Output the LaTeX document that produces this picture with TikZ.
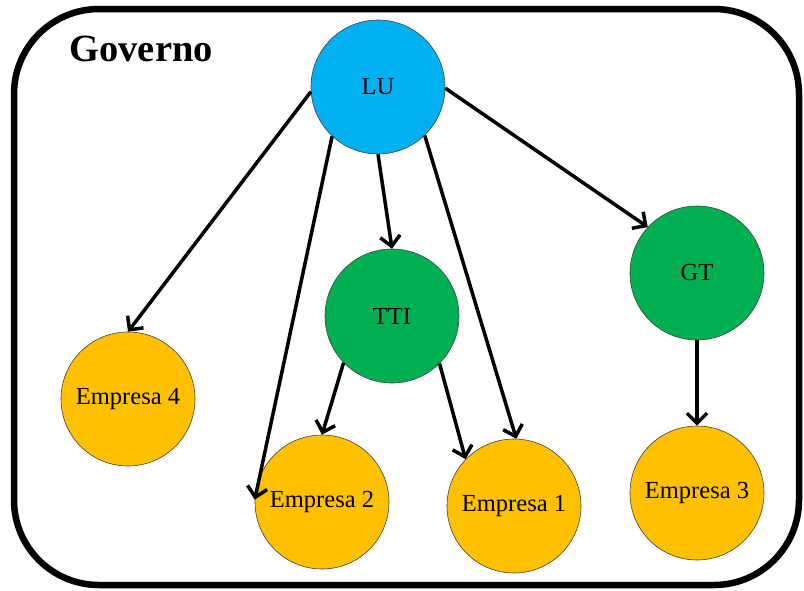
\documentclass[tikz,border=0pt]{standalone}
\usepackage{fontspec}
\setmainfont{Liberation Serif}
\usetikzlibrary{arrows.meta}
\definecolor{lublue}{HTML}{00B0F0}
\definecolor{grn}{HTML}{00B050}
\definecolor{orng}{HTML}{FFC000}
\begin{document}
\begin{tikzpicture}[x=1pt,y=-1pt,
  circ/.style={circle, draw=black!75, line width=0.6pt, minimum size=134pt, inner sep=0pt, font=\fontsize{24.5}{26}\selectfont},
  arr/.style={line width=3.5pt, -{Straight Barb[length=10pt,width=20pt,line width=3.5pt]}}]
\useasboundingbox (0,0) rectangle (804,590);
\draw[line width=6.5pt, rounded corners=85pt] (14,9) rectangle (799,585);
\node[font=\fontsize{38.5}{40}\selectfont\bfseries, anchor=base west] (gov) at (66,61) {Governo};
\node[circ, fill=lublue] (LU) at (378,87) {LU};
\node[circ, fill=grn] (TTI) at (392,316) {TTI};
\node[circ, fill=grn] (GT) at (697,273) {GT};
\node[circ, fill=orng] (E4) at (128,399) {Empresa 4};
\node[circ, fill=orng] (E2) at (322,502) {Empresa 2};
\node[circ, fill=orng] (E1) at (514,506) {Empresa 1};
\node[circ, fill=orng] (E3) at (697,493) {Empresa 3};
\draw[arr] (LU.184) -- (E4.north);
\draw[arr] (LU.227) -- (E2.178);
\draw[arr] (LU.south) -- (TTI.north);
\draw[arr] (LU.314) -- (E1.88);
\draw[arr] (LU.359) -- (GT.137);
\draw[arr] (TTI.224) -- (E2.north);
\draw[arr] (TTI.315) -- (E1.136);
\draw[arr] (GT.south) -- (E3.north);
\end{tikzpicture}
\end{document}
